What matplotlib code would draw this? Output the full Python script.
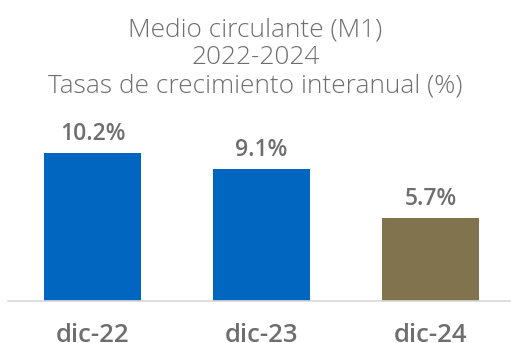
import matplotlib
matplotlib.use("Agg")
import matplotlib.pyplot as plt

# growth rates of M1, December of each year
periods = ["dic-22", "dic-23", "dic-24"]
growth = [10.2, 9.1, 5.7]
bar_colors = ["#0066BF", "#0066BF", "#80734D"]

text_gray = "#6E6E6E"
plt.rcParams["font.family"] = ["Open Sans", "DejaVu Sans"]

fig = plt.figure(figsize=(5.11, 3.43), dpi=100)
ax = fig.add_axes([8 / 511, 0.1233, 1 - 8 / 511, 0.5066])

x = range(len(periods))
bars = ax.bar(x, growth, width=0.574, color=bar_colors, zorder=2)
for b, v in zip(bars, growth):
    ax.annotate(f"{v:.1f}%", (b.get_x() + b.get_width() / 2, v),
                xytext=(0, 5), textcoords="offset points",
                ha="center", va="bottom", fontsize=16.5,
                fontweight="semibold", color=text_gray)

ax.set_xlim(-0.5, 2.476)
ax.set_ylim(0, 12)
ax.set_xticks(list(x))
ax.set_xticklabels(periods, fontsize=18.5, fontweight="semibold", color=text_gray)
ax.tick_params(axis="x", length=0, pad=16)
ax.set_yticks([])
for s in ["top", "right", "left"]:
    ax.spines[s].set_visible(False)
ax.spines["bottom"].set_color("#D9D9D9")
ax.spines["bottom"].set_linewidth(1.2)

fig.text(0.5, 1 - 58 / 343,
         "Medio circulante (M1)\n2022-2024\nTasas de crecimiento interanual (%)",
         ha="center", va="center", fontsize=18.9, color=text_gray,
         fontweight="light", linespacing=1.18)

fig.savefig("out.png", dpi=100)
